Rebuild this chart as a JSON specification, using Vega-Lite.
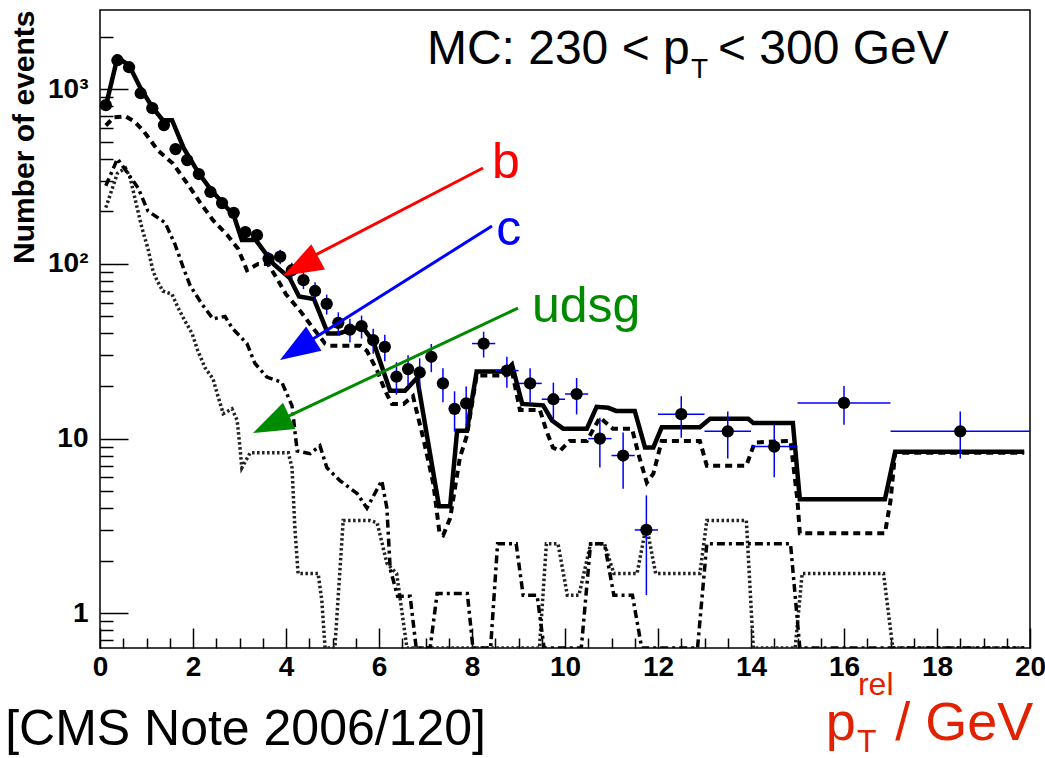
{
  "$schema": "https://vega.github.io/schema/vega-lite/v6.json",
  "width": 930,
  "height": 638,
  "autosize": {"type": "none"},
  "padding": {"left": 100, "top": 10, "right": 15, "bottom": 110},
  "background": "white",
  "config": {"view": {"stroke": "black", "strokeWidth": 1.5}, "font": "Liberation Sans"},
  "resolve": {"axis": {"x": "independent", "y": "independent"}},
  "datasets": {
    "one": [{"k": 1}],
    "pts": [
      {"x": 0.125, "y": 810, "ylo": 781.5, "yhi": 838.5, "xlo": 0, "xhi": 0.25},
      {"x": 0.375, "y": 1465, "ylo": 1427, "yhi": 1503, "xlo": 0.25, "xhi": 0.5},
      {"x": 0.625, "y": 1336, "ylo": 1299, "yhi": 1373, "xlo": 0.5, "xhi": 0.75},
      {"x": 0.875, "y": 948, "ylo": 917, "yhi": 979, "xlo": 0.75, "xhi": 1.0},
      {"x": 1.125, "y": 779, "ylo": 751, "yhi": 807, "xlo": 1.0, "xhi": 1.25},
      {"x": 1.375, "y": 623, "ylo": 598, "yhi": 648, "xlo": 1.25, "xhi": 1.5},
      {"x": 1.625, "y": 454, "ylo": 433, "yhi": 475, "xlo": 1.5, "xhi": 1.75},
      {"x": 1.875, "y": 393, "ylo": 373, "yhi": 413, "xlo": 1.75, "xhi": 2.0},
      {"x": 2.125, "y": 327, "ylo": 309, "yhi": 345, "xlo": 2.0, "xhi": 2.25},
      {"x": 2.375, "y": 258, "ylo": 242, "yhi": 274, "xlo": 2.25, "xhi": 2.5},
      {"x": 2.625, "y": 223, "ylo": 208, "yhi": 238, "xlo": 2.5, "xhi": 2.75},
      {"x": 2.875, "y": 196, "ylo": 182, "yhi": 210, "xlo": 2.75, "xhi": 3.0},
      {"x": 3.125, "y": 152, "ylo": 140, "yhi": 164, "xlo": 3.0, "xhi": 3.25},
      {"x": 3.375, "y": 146, "ylo": 134, "yhi": 158, "xlo": 3.25, "xhi": 3.5},
      {"x": 3.625, "y": 107, "ylo": 96.7, "yhi": 117.3, "xlo": 3.5, "xhi": 3.75},
      {"x": 3.875, "y": 110, "ylo": 99.5, "yhi": 120.5, "xlo": 3.75, "xhi": 4.0},
      {"x": 4.125, "y": 92, "ylo": 82.4, "yhi": 101.6, "xlo": 4.0, "xhi": 4.25},
      {"x": 4.375, "y": 80.7, "ylo": 71.7, "yhi": 89.7, "xlo": 4.25, "xhi": 4.5},
      {"x": 4.625, "y": 70, "ylo": 61.6, "yhi": 78.4, "xlo": 4.5, "xhi": 4.75},
      {"x": 4.875, "y": 59, "ylo": 51.3, "yhi": 66.7, "xlo": 4.75, "xhi": 5.0},
      {"x": 5.125, "y": 46, "ylo": 39.2, "yhi": 52.8, "xlo": 5.0, "xhi": 5.25},
      {"x": 5.375, "y": 42, "ylo": 35.5, "yhi": 48.5, "xlo": 5.25, "xhi": 5.5},
      {"x": 5.625, "y": 44, "ylo": 37.4, "yhi": 50.6, "xlo": 5.5, "xhi": 5.75},
      {"x": 5.875, "y": 36.6, "ylo": 30.6, "yhi": 42.6, "xlo": 5.75, "xhi": 6.0},
      {"x": 6.125, "y": 33.5, "ylo": 27.7, "yhi": 39.3, "xlo": 6.0, "xhi": 6.25},
      {"x": 6.375, "y": 22.6, "ylo": 17.85, "yhi": 27.35, "xlo": 6.25, "xhi": 6.5},
      {"x": 6.625, "y": 25, "ylo": 20, "yhi": 30, "xlo": 6.5, "xhi": 6.75},
      {"x": 6.875, "y": 23.9, "ylo": 19, "yhi": 28.8, "xlo": 6.75, "xhi": 7.0},
      {"x": 7.125, "y": 29.4, "ylo": 24, "yhi": 34.8, "xlo": 7.0, "xhi": 7.25},
      {"x": 7.375, "y": 20.7, "ylo": 16.15, "yhi": 25.25, "xlo": 7.25, "xhi": 7.5},
      {"x": 7.625, "y": 14.8, "ylo": 10.95, "yhi": 18.65, "xlo": 7.5, "xhi": 7.75},
      {"x": 7.875, "y": 15.9, "ylo": 11.9, "yhi": 19.9, "xlo": 7.75, "xhi": 8.0},
      {"x": 8.25, "y": 35, "ylo": 29.1, "yhi": 40.9, "xlo": 8.0, "xhi": 8.5},
      {"x": 8.75, "y": 24.5, "ylo": 19.55, "yhi": 29.45, "xlo": 8.5, "xhi": 9.0},
      {"x": 9.25, "y": 20.7, "ylo": 16.15, "yhi": 25.25, "xlo": 9.0, "xhi": 9.5},
      {"x": 9.75, "y": 16.8, "ylo": 12.7, "yhi": 20.9, "xlo": 9.5, "xhi": 10.0},
      {"x": 10.25, "y": 18, "ylo": 13.76, "yhi": 22.24, "xlo": 10.0, "xhi": 10.5},
      {"x": 10.75, "y": 10, "ylo": 6.84, "yhi": 13.16, "xlo": 10.5, "xhi": 11.0},
      {"x": 11.25, "y": 8, "ylo": 5.17, "yhi": 10.83, "xlo": 11.0, "xhi": 11.5},
      {"x": 11.75, "y": 3, "ylo": 1.27, "yhi": 4.73, "xlo": 11.5, "xhi": 12.0},
      {"x": 12.5, "y": 13.8, "ylo": 10.1, "yhi": 17.5, "xlo": 12.0, "xhi": 13.0},
      {"x": 13.5, "y": 11, "ylo": 7.7, "yhi": 14.3, "xlo": 13.0, "xhi": 14.0},
      {"x": 14.5, "y": 9, "ylo": 6, "yhi": 12, "xlo": 14.0, "xhi": 15.0},
      {"x": 16, "y": 16, "ylo": 12, "yhi": 20, "xlo": 15.0, "xhi": 17.0},
      {"x": 18.5, "y": 11, "ylo": 7.7, "yhi": 14.3, "xlo": 17.0, "xhi": 20.0}
    ],
    "total": [
      {"x": 0.125, "y": 800}, {"x": 0.375, "y": 1520}, {"x": 0.625, "y": 1370}, {"x": 0.875, "y": 1010},
      {"x": 1.125, "y": 790}, {"x": 1.35, "y": 665}, {"x": 1.55, "y": 665}, {"x": 1.8, "y": 460},
      {"x": 2.125, "y": 330}, {"x": 2.375, "y": 268}, {"x": 2.625, "y": 225}, {"x": 2.875, "y": 190},
      {"x": 3.05, "y": 137}, {"x": 3.35, "y": 137}, {"x": 3.73, "y": 100}, {"x": 4.08, "y": 83},
      {"x": 4.28, "y": 65}, {"x": 4.6, "y": 63}, {"x": 4.9, "y": 40}, {"x": 5.14, "y": 40},
      {"x": 5.63, "y": 44}, {"x": 5.875, "y": 36}, {"x": 6.24, "y": 18.8}, {"x": 6.56, "y": 18.8},
      {"x": 6.82, "y": 22.3}, {"x": 7.29, "y": 4.1}, {"x": 7.53, "y": 4.1}, {"x": 7.68, "y": 11.1},
      {"x": 7.89, "y": 11.1}, {"x": 8.1, "y": 24.2}, {"x": 8.72, "y": 24.2}, {"x": 8.86, "y": 26.5},
      {"x": 9.08, "y": 15.8}, {"x": 9.53, "y": 15.5}, {"x": 9.72, "y": 12.7}, {"x": 9.96, "y": 11.4},
      {"x": 10.47, "y": 11.4}, {"x": 10.68, "y": 15.2}, {"x": 10.93, "y": 15.0}, {"x": 11.1, "y": 14.4},
      {"x": 11.5, "y": 14.4}, {"x": 11.72, "y": 8.9}, {"x": 11.9, "y": 8.9}, {"x": 12.08, "y": 11.6},
      {"x": 12.9, "y": 11.6}, {"x": 13.12, "y": 13.0}, {"x": 13.94, "y": 13.0}, {"x": 14.05, "y": 12.3},
      {"x": 14.9, "y": 12.3}, {"x": 15.05, "y": 4.5}, {"x": 16.88, "y": 4.5}, {"x": 17.1, "y": 8.4},
      {"x": 19.875, "y": 8.4}
    ],
    "bq": [
      {"x": 0.125, "y": 620}, {"x": 0.3, "y": 690}, {"x": 0.55, "y": 700}, {"x": 0.75, "y": 650},
      {"x": 0.95, "y": 570}, {"x": 1.25, "y": 445}, {"x": 1.57, "y": 375}, {"x": 1.87, "y": 290},
      {"x": 2.15, "y": 225}, {"x": 2.43, "y": 178}, {"x": 2.75, "y": 145}, {"x": 2.97, "y": 122},
      {"x": 3.16, "y": 92}, {"x": 3.4, "y": 100}, {"x": 3.61, "y": 100}, {"x": 3.8, "y": 83},
      {"x": 4.0, "y": 67}, {"x": 4.3, "y": 54}, {"x": 4.58, "y": 43}, {"x": 4.84, "y": 35},
      {"x": 4.95, "y": 34}, {"x": 5.6, "y": 34}, {"x": 5.74, "y": 31.8}, {"x": 5.96, "y": 24.5},
      {"x": 6.13, "y": 18.8}, {"x": 6.28, "y": 15.8}, {"x": 6.53, "y": 15.8}, {"x": 6.73, "y": 17.5},
      {"x": 6.95, "y": 10.1}, {"x": 7.17, "y": 5.5}, {"x": 7.3, "y": 2.9}, {"x": 7.38, "y": 2.8},
      {"x": 7.53, "y": 3.5}, {"x": 7.74, "y": 7.8}, {"x": 7.89, "y": 10.4}, {"x": 8.1, "y": 23},
      {"x": 8.7, "y": 23}, {"x": 8.85, "y": 25}, {"x": 9.03, "y": 14.6}, {"x": 9.46, "y": 14.6},
      {"x": 9.6, "y": 11.1}, {"x": 9.74, "y": 8.9}, {"x": 9.89, "y": 8.5}, {"x": 10.1, "y": 9.7},
      {"x": 10.47, "y": 9.7}, {"x": 10.75, "y": 13.2}, {"x": 11.03, "y": 11.4}, {"x": 11.44, "y": 11.4},
      {"x": 11.6, "y": 7.8}, {"x": 11.76, "y": 5.6}, {"x": 11.9, "y": 6.3}, {"x": 12.08, "y": 9.7},
      {"x": 12.9, "y": 9.7}, {"x": 13.05, "y": 7.0}, {"x": 13.9, "y": 7.0}, {"x": 14.08, "y": 9.5},
      {"x": 14.85, "y": 9.7}, {"x": 15.0, "y": 4.4}, {"x": 15.05, "y": 2.87}, {"x": 16.88, "y": 2.87},
      {"x": 17.0, "y": 4.4}, {"x": 17.1, "y": 8.3}, {"x": 19.875, "y": 8.3}
    ],
    "cq": [
      {"x": 0.125, "y": 280}, {"x": 0.375, "y": 400}, {"x": 0.6, "y": 330}, {"x": 0.82, "y": 272},
      {"x": 1.03, "y": 201}, {"x": 1.4, "y": 172}, {"x": 1.61, "y": 130}, {"x": 1.78, "y": 97},
      {"x": 1.94, "y": 75}, {"x": 2.19, "y": 59}, {"x": 2.43, "y": 48.5}, {"x": 2.69, "y": 50},
      {"x": 2.84, "y": 43}, {"x": 3.16, "y": 35}, {"x": 3.33, "y": 27}, {"x": 3.59, "y": 22.5},
      {"x": 3.91, "y": 21}, {"x": 4.13, "y": 15.4}, {"x": 4.24, "y": 8.5}, {"x": 4.52, "y": 8.2},
      {"x": 4.73, "y": 9.1}, {"x": 4.88, "y": 6.8}, {"x": 5.16, "y": 5.75}, {"x": 5.53, "y": 4.85},
      {"x": 5.74, "y": 4.0}, {"x": 6.06, "y": 5.75}, {"x": 6.17, "y": 4.0}, {"x": 6.24, "y": 1.8},
      {"x": 6.4, "y": 1.25}, {"x": 6.67, "y": 1.25}, {"x": 6.8, "y": 0.633}, {"x": 7.1, "y": 0.633},
      {"x": 7.25, "y": 1.3}, {"x": 7.9, "y": 1.3}, {"x": 8.02, "y": 0.633}, {"x": 8.4, "y": 0.633},
      {"x": 8.55, "y": 2.5}, {"x": 8.95, "y": 2.5}, {"x": 9.1, "y": 1.27}, {"x": 9.4, "y": 1.27},
      {"x": 9.55, "y": 0.633}, {"x": 10.35, "y": 0.633}, {"x": 10.55, "y": 2.5}, {"x": 10.85, "y": 2.5},
      {"x": 11.05, "y": 1.27}, {"x": 11.45, "y": 1.27}, {"x": 11.65, "y": 0.633}, {"x": 12.85, "y": 0.633},
      {"x": 13.05, "y": 2.5}, {"x": 14.85, "y": 2.5}, {"x": 15.05, "y": 0.633}, {"x": 19.875, "y": 0.633}
    ],
    "lq": [
      {"x": 0.125, "y": 210}, {"x": 0.375, "y": 330}, {"x": 0.55, "y": 354}, {"x": 0.65, "y": 310},
      {"x": 0.75, "y": 238}, {"x": 0.9, "y": 161}, {"x": 1.03, "y": 123}, {"x": 1.14, "y": 91},
      {"x": 1.23, "y": 80}, {"x": 1.35, "y": 70}, {"x": 1.55, "y": 67}, {"x": 1.68, "y": 56},
      {"x": 1.83, "y": 47}, {"x": 1.98, "y": 40}, {"x": 2.1, "y": 32}, {"x": 2.26, "y": 25.4},
      {"x": 2.43, "y": 22}, {"x": 2.52, "y": 18.1}, {"x": 2.65, "y": 13.9}, {"x": 2.84, "y": 14.8},
      {"x": 2.95, "y": 12.7}, {"x": 3.01, "y": 8.9}, {"x": 3.05, "y": 6.8}, {"x": 3.23, "y": 8.3},
      {"x": 4.05, "y": 8.3}, {"x": 4.13, "y": 6.8}, {"x": 4.19, "y": 3.1}, {"x": 4.26, "y": 1.69},
      {"x": 4.69, "y": 1.69}, {"x": 4.77, "y": 1.19}, {"x": 4.84, "y": 0.633}, {"x": 5.05, "y": 0.633},
      {"x": 5.23, "y": 3.4}, {"x": 5.8, "y": 3.4}, {"x": 5.96, "y": 3.3}, {"x": 6.17, "y": 1.93},
      {"x": 6.38, "y": 1.69}, {"x": 6.6, "y": 0.633}, {"x": 9.45, "y": 0.633}, {"x": 9.6, "y": 2.5},
      {"x": 9.85, "y": 2.5}, {"x": 10.05, "y": 1.27}, {"x": 10.3, "y": 1.27}, {"x": 10.55, "y": 2.5},
      {"x": 10.85, "y": 2.5}, {"x": 11.05, "y": 1.69}, {"x": 11.55, "y": 1.69}, {"x": 11.75, "y": 3.2},
      {"x": 11.95, "y": 1.69}, {"x": 12.9, "y": 1.69}, {"x": 13.05, "y": 3.4}, {"x": 13.9, "y": 3.4},
      {"x": 14.05, "y": 0.633}, {"x": 14.95, "y": 0.633}, {"x": 15.1, "y": 1.69}, {"x": 16.85, "y": 1.69},
      {"x": 17.05, "y": 0.633}, {"x": 19.875, "y": 0.633}
    ]
  },
  "layer": [
    {
      "data": {"name": "lq"},
      "mark": {"type": "line", "clip": true, "color": "#222222", "strokeWidth": 3.5, "strokeDash": [2.5, 2.5]},
      "encoding": {
        "x": {"field": "x", "type": "quantitative", "scale": {"type": "linear", "domain": [0, 20], "nice": false, "zero": false},
          "axis": {"orient": "bottom", "offset": -20, "values": [0, 2, 4, 6, 8, 10, 12, 14, 16, 18, 20], "format": "d", "tickSize": 20, "tickWidth": 1.5, "tickColor": "black", "domain": false, "labelFont": "Liberation Sans", "labelFontWeight": "bold", "labelFontSize": 28, "labelColor": "black", "labelPadding": 5, "labelFlush": false, "labelOverlap": false, "grid": false, "title": null}},
        "y": {"field": "y", "type": "quantitative", "scale": {"type": "log", "domain": [0.633, 2840], "nice": false},
          "axis": {"orient": "left", "offset": -28, "values": [1, 10, 100, 1000], "labelExpr": "datum.value == 1 ? '1' : datum.value == 10 ? '10' : datum.value == 100 ? '10²' : '10³'", "tickSize": 28, "tickWidth": 1.5, "tickColor": "black", "domain": false, "labelFont": "Liberation Sans", "labelFontWeight": "bold", "labelFontSize": 28, "labelColor": "black", "labelPadding": 12, "labelOverlap": false, "labelFlush": false, "grid": false,
            "title": "Number of events", "titleFont": "Liberation Sans", "titleFontSize": 30, "titleFontWeight": "bold", "titleColor": "black", "titleAngle": 270, "titleAlign": "right", "titleBaseline": "alphabetic", "titleX": -95, "titleY": 0}}
      }
    },
    {
      "data": {"name": "cq"},
      "mark": {"type": "line", "clip": true, "color": "black", "strokeWidth": 3.5, "strokeDash": [8, 4, 3, 4]},
      "encoding": {
        "x": {"field": "x", "type": "quantitative", "scale": {"type": "linear", "domain": [0, 20], "nice": false, "zero": false},
          "axis": {"orient": "bottom", "offset": -10, "values": [0.5, 1, 1.5, 2.5, 3, 3.5, 4.5, 5, 5.5, 6.5, 7, 7.5, 8.5, 9, 9.5, 10.5, 11, 11.5, 12.5, 13, 13.5, 14.5, 15, 15.5, 16.5, 17, 17.5, 18.5, 19, 19.5], "tickSize": 10, "tickWidth": 1.5, "tickColor": "black", "labels": false, "domain": false, "grid": false, "title": null}},
        "y": {"field": "y", "type": "quantitative", "scale": {"type": "log", "domain": [0.633, 2840], "nice": false},
          "axis": {"orient": "left", "offset": -13, "values": [0.7, 0.8, 0.9, 2, 3, 4, 5, 6, 7, 8, 9, 20, 30, 40, 50, 60, 70, 80, 90, 200, 300, 400, 500, 600, 700, 800, 900, 2000], "tickSize": 13, "tickWidth": 1.5, "tickColor": "black", "labels": false, "domain": false, "grid": false, "title": null}}
      }
    },
    {
      "data": {"name": "bq"},
      "mark": {"type": "line", "clip": true, "color": "black", "strokeWidth": 4, "strokeDash": [7, 5]},
      "encoding": {
        "x": {"field": "x", "type": "quantitative", "scale": {"type": "linear", "domain": [0, 20], "nice": false, "zero": false}, "axis": null},
        "y": {"field": "y", "type": "quantitative", "scale": {"type": "log", "domain": [0.633, 2840], "nice": false}, "axis": null}
      }
    },
    {
      "data": {"name": "total"},
      "mark": {"type": "line", "clip": true, "color": "black", "strokeWidth": 4.5},
      "encoding": {
        "x": {"field": "x", "type": "quantitative", "scale": {"type": "linear", "domain": [0, 20], "nice": false, "zero": false}, "axis": null},
        "y": {"field": "y", "type": "quantitative", "scale": {"type": "log", "domain": [0.633, 2840], "nice": false}, "axis": null}
      }
    },
    {
      "data": {"name": "pts"},
      "mark": {"type": "rule", "clip": true, "color": "#0000ff", "strokeWidth": 1.5},
      "encoding": {
        "x": {"field": "x", "type": "quantitative", "scale": {"type": "linear", "domain": [0, 20], "nice": false, "zero": false}, "axis": null},
        "y": {"field": "ylo", "type": "quantitative", "scale": {"type": "log", "domain": [0.633, 2840], "nice": false}, "axis": null},
        "y2": {"field": "yhi"}
      }
    },
    {
      "data": {"name": "pts"},
      "mark": {"type": "rule", "clip": true, "color": "#0000ff", "strokeWidth": 1.5},
      "encoding": {
        "x": {"field": "xlo", "type": "quantitative", "scale": {"type": "linear", "domain": [0, 20], "nice": false, "zero": false}, "axis": null},
        "x2": {"field": "xhi"},
        "y": {"field": "y", "type": "quantitative", "scale": {"type": "log", "domain": [0.633, 2840], "nice": false}, "axis": null}
      }
    },
    {
      "data": {"name": "pts"},
      "mark": {"type": "point", "shape": "circle", "filled": true, "size": 150, "color": "black", "opacity": 1},
      "encoding": {
        "x": {"field": "x", "type": "quantitative", "scale": {"type": "linear", "domain": [0, 20], "nice": false, "zero": false}, "axis": null},
        "y": {"field": "y", "type": "quantitative", "scale": {"type": "log", "domain": [0.633, 2840], "nice": false}, "axis": null}
      }
    },
    {
      "data": {"name": "one"},
      "mark": {"type": "rule", "color": "#ff0000", "strokeWidth": 3},
      "encoding": {
        "x": {"datum": 8.237, "type": "quantitative", "scale": {"type": "linear", "domain": [0, 20], "nice": false, "zero": false}, "axis": null},
        "x2": {"datum": 4.30},
        "y": {"datum": 354, "type": "quantitative", "scale": {"type": "log", "domain": [0.633, 2840], "nice": false}, "axis": null},
        "y2": {"datum": 101.2}
      }
    },
    {
      "data": {"name": "one"},
      "mark": {"type": "point", "shape": "M0,0L0.36,1L-0.36,1Z", "filled": true, "size": 6400, "angle": 241.6, "color": "#ff0000", "opacity": 1, "strokeWidth": 0},
      "encoding": {
        "x": {"datum": 3.935, "type": "quantitative", "scale": {"type": "linear", "domain": [0, 20], "nice": false, "zero": false}, "axis": null},
        "y": {"datum": 85.3, "type": "quantitative", "scale": {"type": "log", "domain": [0.633, 2840], "nice": false}, "axis": null}
      }
    },
    {
      "data": {"name": "one"},
      "mark": {"type": "rule", "color": "#0000ff", "strokeWidth": 3},
      "encoding": {
        "x": {"datum": 8.43, "type": "quantitative", "scale": {"type": "linear", "domain": [0, 20], "nice": false, "zero": false}, "axis": null},
        "x2": {"datum": 4.237},
        "y": {"datum": 164.8, "type": "quantitative", "scale": {"type": "log", "domain": [0.633, 2840], "nice": false}, "axis": null},
        "y2": {"datum": 32.6}
      }
    },
    {
      "data": {"name": "one"},
      "mark": {"type": "point", "shape": "M0,0L0.36,1L-0.36,1Z", "filled": true, "size": 6400, "angle": 237.7, "color": "#0000ff", "opacity": 1, "strokeWidth": 0},
      "encoding": {
        "x": {"datum": 3.871, "type": "quantitative", "scale": {"type": "linear", "domain": [0, 20], "nice": false, "zero": false}, "axis": null},
        "y": {"datum": 28.2, "type": "quantitative", "scale": {"type": "log", "domain": [0.633, 2840], "nice": false}, "axis": null}
      }
    },
    {
      "data": {"name": "one"},
      "mark": {"type": "rule", "color": "#008a00", "strokeWidth": 3},
      "encoding": {
        "x": {"datum": 8.989, "type": "quantitative", "scale": {"type": "linear", "domain": [0, 20], "nice": false, "zero": false}, "axis": null},
        "x2": {"datum": 3.677},
        "y": {"datum": 55.9, "type": "quantitative", "scale": {"type": "log", "domain": [0.633, 2840], "nice": false}, "axis": null},
        "y2": {"datum": 12.05}
      }
    },
    {
      "data": {"name": "one"},
      "mark": {"type": "point", "shape": "M0,0L0.36,1L-0.36,1Z", "filled": true, "size": 6400, "angle": 244.7, "color": "#008a00", "opacity": 1, "strokeWidth": 0},
      "encoding": {
        "x": {"datum": 3.29, "type": "quantitative", "scale": {"type": "linear", "domain": [0, 20], "nice": false, "zero": false}, "axis": null},
        "y": {"datum": 10.77, "type": "quantitative", "scale": {"type": "log", "domain": [0.633, 2840], "nice": false}, "axis": null}
      }
    },
    {
      "data": {"name": "one"},
      "mark": {"type": "text", "text": "b", "font": "Liberation Sans", "fontSize": 50, "color": "#ff0000", "align": "left", "baseline": "alphabetic"},
      "encoding": {
        "x": {"datum": 8.43, "type": "quantitative", "scale": {"type": "linear", "domain": [0, 20], "nice": false, "zero": false}, "axis": null},
        "y": {"datum": 310, "type": "quantitative", "scale": {"type": "log", "domain": [0.633, 2840], "nice": false}, "axis": null}
      }
    },
    {
      "data": {"name": "one"},
      "mark": {"type": "text", "text": "c", "font": "Liberation Sans", "fontSize": 50, "color": "#0000ff", "align": "left", "baseline": "alphabetic"},
      "encoding": {
        "x": {"datum": 8.52, "type": "quantitative", "scale": {"type": "linear", "domain": [0, 20], "nice": false, "zero": false}, "axis": null},
        "y": {"datum": 128.3, "type": "quantitative", "scale": {"type": "log", "domain": [0.633, 2840], "nice": false}, "axis": null}
      }
    },
    {
      "data": {"name": "one"},
      "mark": {"type": "text", "text": "udsg", "font": "Liberation Sans", "fontSize": 50, "color": "#008a00", "align": "left", "baseline": "alphabetic"},
      "encoding": {
        "x": {"datum": 9.29, "type": "quantitative", "scale": {"type": "linear", "domain": [0, 20], "nice": false, "zero": false}, "axis": null},
        "y": {"datum": 46.5, "type": "quantitative", "scale": {"type": "log", "domain": [0.633, 2840], "nice": false}, "axis": null}
      }
    },
    {
      "data": {"name": "one"},
      "mark": {"type": "text", "text": "MC: 230 < p", "font": "Liberation Sans", "fontSize": 48, "color": "black", "align": "left", "baseline": "alphabetic"},
      "encoding": {
        "x": {"datum": 7.03, "type": "quantitative", "scale": {"type": "linear", "domain": [0, 20], "nice": false, "zero": false}, "axis": null},
        "y": {"datum": 1394, "type": "quantitative", "scale": {"type": "log", "domain": [0.633, 2840], "nice": false}, "axis": null}
      }
    },
    {
      "data": {"name": "one"},
      "mark": {"type": "text", "text": "T", "font": "Liberation Sans", "fontSize": 28, "color": "black", "align": "left", "baseline": "alphabetic"},
      "encoding": {
        "x": {"datum": 12.71, "type": "quantitative", "scale": {"type": "linear", "domain": [0, 20], "nice": false, "zero": false}, "axis": null},
        "y": {"datum": 1159, "type": "quantitative", "scale": {"type": "log", "domain": [0.633, 2840], "nice": false}, "axis": null}
      }
    },
    {
      "data": {"name": "one"},
      "mark": {"type": "text", "text": "< 300 GeV", "font": "Liberation Sans", "fontSize": 48, "color": "black", "align": "left", "baseline": "alphabetic"},
      "encoding": {
        "x": {"datum": 13.29, "type": "quantitative", "scale": {"type": "linear", "domain": [0, 20], "nice": false, "zero": false}, "axis": null},
        "y": {"datum": 1394, "type": "quantitative", "scale": {"type": "log", "domain": [0.633, 2840], "nice": false}, "axis": null}
      }
    },
    {
      "data": {"name": "one"},
      "mark": {"type": "text", "text": "[CMS Note 2006/120]", "font": "Liberation Sans", "fontSize": 50, "color": "black", "align": "left", "baseline": "alphabetic"},
      "encoding": {
        "x": {"datum": -2.04, "type": "quantitative", "scale": {"type": "linear", "domain": [0, 20], "nice": false, "zero": false}, "axis": null},
        "y": {"datum": 0.176, "type": "quantitative", "scale": {"type": "log", "domain": [0.633, 2840], "nice": false}, "axis": null}
      }
    },
    {
      "data": {"name": "one"},
      "mark": {"type": "text", "text": "p", "font": "Liberation Sans", "fontSize": 54, "color": "#e02200", "align": "left", "baseline": "alphabetic"},
      "encoding": {
        "x": {"datum": 15.61, "type": "quantitative", "scale": {"type": "linear", "domain": [0, 20], "nice": false, "zero": false}, "axis": null},
        "y": {"datum": 0.188, "type": "quantitative", "scale": {"type": "log", "domain": [0.633, 2840], "nice": false}, "axis": null}
      }
    },
    {
      "data": {"name": "one"},
      "mark": {"type": "text", "text": "T", "font": "Liberation Sans", "fontSize": 32, "color": "#e02200", "align": "left", "baseline": "alphabetic"},
      "encoding": {
        "x": {"datum": 16.28, "type": "quantitative", "scale": {"type": "linear", "domain": [0, 20], "nice": false, "zero": false}, "axis": null},
        "y": {"datum": 0.1607, "type": "quantitative", "scale": {"type": "log", "domain": [0.633, 2840], "nice": false}, "axis": null}
      }
    },
    {
      "data": {"name": "one"},
      "mark": {"type": "text", "text": "rel", "font": "Liberation Sans", "fontSize": 32, "color": "#e02200", "align": "left", "baseline": "alphabetic"},
      "encoding": {
        "x": {"datum": 16.30, "type": "quantitative", "scale": {"type": "linear", "domain": [0, 20], "nice": false, "zero": false}, "axis": null},
        "y": {"datum": 0.341, "type": "quantitative", "scale": {"type": "log", "domain": [0.633, 2840], "nice": false}, "axis": null}
      }
    },
    {
      "data": {"name": "one"},
      "mark": {"type": "text", "text": "/ GeV", "font": "Liberation Sans", "fontSize": 54, "color": "#e02200", "align": "left", "baseline": "alphabetic"},
      "encoding": {
        "x": {"datum": 17.10, "type": "quantitative", "scale": {"type": "linear", "domain": [0, 20], "nice": false, "zero": false}, "axis": null},
        "y": {"datum": 0.188, "type": "quantitative", "scale": {"type": "log", "domain": [0.633, 2840], "nice": false}, "axis": null}
      }
    }
  ]
}
